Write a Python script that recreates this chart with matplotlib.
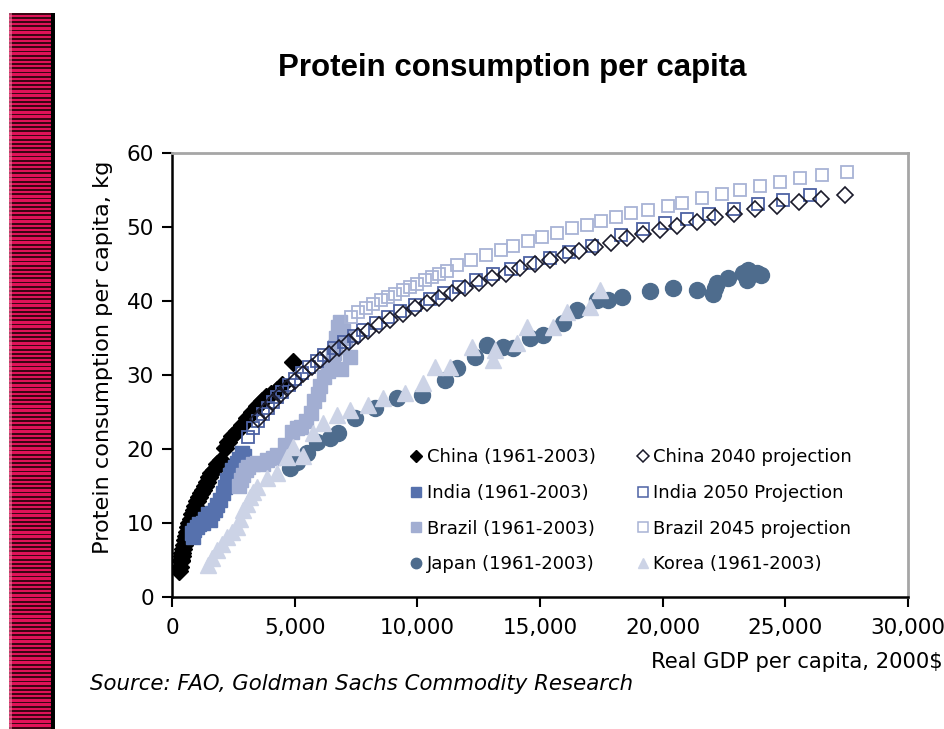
import matplotlib
matplotlib.use('Agg')
import matplotlib.pyplot as plt
import numpy as np
from matplotlib.ticker import FuncFormatter
from matplotlib.lines import Line2D

# historical series (GDP per capita, protein kg)
china_x = [300, 330, 360, 400, 380, 420, 450, 480, 520, 560, 600, 640, 700, 760, 820, 880, 950, 1020,
           1100, 1180, 1250, 1330, 1420, 1500, 1600, 1700, 1820, 2000, 2150, 2300, 2450, 2650, 2850,
           3050, 3250, 3450, 3650, 3850, 4050, 4300, 4500, 4950]
china_y = [3.5, 4.0, 4.8, 5.5, 5.0, 6.0, 6.5, 7.0, 7.7, 8.3, 8.8, 9.4, 10.0, 10.5, 11.2, 11.8, 12.3, 13.0,
           13.5, 14.0, 14.5, 15.0, 15.6, 16.2, 16.8, 17.2, 18.0, 18.5, 20.2, 21.0, 21.8, 22.5, 23.3,
           24.2, 25.0, 25.8, 26.5, 27.0, 27.5, 28.0, 28.6, 31.7]

india_x = [815, 860, 900, 1020, 1100, 1260, 1350, 1450, 1550, 1650, 1750, 1850, 1960, 2060, 2160, 2240,
           2350, 2450, 2550, 2650, 2750, 2850, 2950]
india_y = [8.6, 8.1, 9.0, 9.5, 9.8, 10.0, 10.6, 11.2, 10.4, 11.3, 11.8, 12.5, 13.1, 14.0, 14.9, 15.8,
           16.5, 17.2, 17.6, 18.1, 18.6, 19.4, 19.0]

brazil_x = [2750, 2800, 2900, 3000, 3100, 3300, 3460, 3700, 3870, 4100, 4300, 4600, 4900, 5100, 5250,
            5450, 5650, 5800, 5950, 6050, 6200, 6350, 6450, 6550, 6650, 6700, 6770, 6850, 6950, 7050,
            7260, 6900, 6600]
brazil_y = [15.0, 15.8, 16.5, 17.2, 17.6, 18.0, 18.1, 18.0, 18.5, 18.8, 19.2, 20.5, 22.3, 22.8, 23.0,
            23.8, 24.9, 26.5, 27.5, 28.5, 29.7, 30.5, 31.1, 32.5, 33.8, 35.0, 36.5, 37.2, 36.0, 35.0,
            32.4, 30.8, 33.0]

japan_x = [4800, 5100, 5500, 5900, 6440, 6770, 7460, 8270, 9170, 10190, 11130, 11620, 12350, 12840,
           13490, 13900, 14590, 15120, 15940, 16510, 17320, 17770, 18340, 19480, 20420, 21400, 22050,
           22130, 22210, 22660, 23270, 23430, 23470, 23840, 24000]
japan_y = [17.5, 18.2, 19.4, 21.0, 21.5, 22.2, 24.2, 25.5, 26.9, 27.3, 29.3, 30.9, 32.4, 34.0, 33.8,
           33.6, 35.0, 35.4, 37.0, 38.8, 40.1, 40.1, 40.5, 41.3, 41.8, 41.5, 41.0, 41.8, 42.4, 43.1,
           43.8, 42.8, 44.2, 43.8, 43.5]

korea_x = [1470, 1650, 1830, 2050, 2240, 2450, 2650, 2780, 2900, 3050, 3180, 3320, 3460, 3870, 4280,
           4690, 4930, 5340, 5750, 6150, 6730, 7260, 7990, 8600, 9500, 10230, 10720, 11330, 12230,
           13080, 13170, 14060, 14470, 15530, 16100, 17040, 17440]
korea_y = [4.3, 5.3, 6.3, 7.2, 8.1, 8.8, 9.5, 10.6, 11.8, 12.6, 13.5, 14.2, 14.9, 16.1, 16.8, 18.9,
           20.3, 19.0, 22.2, 23.5, 24.6, 25.3, 25.9, 26.9, 27.6, 28.9, 31.1, 31.1, 33.8, 32.0, 33.4,
           34.3, 36.5, 36.5, 38.5, 39.2, 41.5]

# projections
china_p_x = [3500, 3800, 4100, 4400, 4700, 5000, 5350, 5700, 6050, 6400, 6800, 7200, 7600, 8000, 8450,
             8900, 9400, 9900, 10400, 10900, 11400, 11950, 12500, 13050, 13600, 14200, 14800, 15400,
             16000, 16600, 17250, 17900, 18550, 19200, 19900, 20600, 21400, 22150, 22900, 23750,
             24650, 25550, 26450, 27450]
china_p_y = [24.0, 25.2, 26.3, 27.3, 28.3, 29.2, 30.2, 31.1, 32.0, 32.8, 33.7, 34.5, 35.3, 36.0, 36.8,
             37.5, 38.3, 39.0, 39.7, 40.4, 41.1, 41.8, 42.5, 43.1, 43.7, 44.4, 45.0, 45.6, 46.2, 46.8,
             47.3, 47.9, 48.5, 49.1, 49.6, 50.1, 50.7, 51.3, 51.8, 52.4, 52.9, 53.4, 53.8, 54.3]

india_p_x = [3100, 3300, 3500, 3700, 3900, 4100, 4300, 4500, 4750, 5000, 5300, 5600, 5900, 6200, 6600,
             7000, 7400, 7800, 8300, 8800, 9300, 9900, 10500, 11100, 11700, 12400, 13100, 13800, 14600,
             15400, 16200, 17100, 18300, 19200, 20100, 21000, 21900, 22900, 23900, 24900, 26000]
india_p_y = [21.6, 22.8, 23.8, 24.7, 25.5, 26.3, 27.0, 27.7, 28.6, 29.4, 30.3, 31.1, 31.9, 32.7, 33.6,
             34.5, 35.3, 36.1, 37.0, 37.8, 38.6, 39.5, 40.3, 41.1, 41.9, 42.8, 43.6, 44.3, 45.1, 45.8,
             46.6, 47.5, 48.9, 49.7, 50.5, 51.1, 51.8, 52.5, 53.1, 53.7, 54.3]

brazil_p_x = [7300, 7600, 7900, 8200, 8500, 8800, 9100, 9400, 9700, 10000, 10300, 10600, 10900, 11200,
              11600, 12200, 12800, 13400, 13900, 14500, 15100, 15700, 16300, 16900, 17500, 18100,
              18700, 19400, 20200, 20800, 21600, 22400, 23150, 23950, 24800, 25600, 26500, 27500]
brazil_p_y = [37.8, 38.5, 39.1, 39.6, 40.1, 40.6, 41.0, 41.5, 41.9, 42.3, 42.8, 43.2, 43.6, 44.1, 44.8,
              45.6, 46.2, 46.9, 47.5, 48.1, 48.6, 49.2, 49.8, 50.3, 50.8, 51.3, 51.9, 52.3, 52.8, 53.3,
              53.9, 54.5, 55.0, 55.6, 56.1, 56.6, 57.0, 57.4]

x_ticks = [0, 5000, 10000, 15000, 20000, 25000, 30000]
y_ticks = [0, 10, 20, 30, 40, 50, 60]

c_china = 'black'
c_india = '#5671ad'
c_brazil = '#a2aed2'
c_japan = '#4e6c8d'
c_korea = '#ccd3e6'
c_india_p = '#4d62a4'
c_brazil_p = '#a8b3d5'
c_china_p = '#1a1a2a'

fig = plt.figure(figsize=(9.45, 7.29), dpi=100)

# decorative striped bar on the left (pixel units inside its own axes)
bar = fig.add_axes([9/945, 0, 42/945, 716/729])
bar.set_xlim(0, 1)
bar.set_ylim(0, 716)
bar.set_facecolor('#e01258')
for y0 in np.arange(0.5, 716, 4.2):
    bar.axhspan(y0, y0 + 1.7, color='#3c0614', lw=0)
bar.axvspan(0, 0.06, color='#f07aa0', lw=0, alpha=0.6)
bar.set_xticks([])
bar.set_yticks([])
for s in bar.spines.values():
    s.set_visible(False)
fig.add_artist(plt.Rectangle((51/945, 0), 4/945, 716/729, transform=fig.transFigure,
                             color='black', lw=0))

ax = fig.add_axes([172/945, 132/729, 736/945, 444/729])

ax.plot(china_x, china_y, ls='none', marker='D', ms=9.5, color=c_china)
ax.plot(india_x, india_y, ls='none', marker='s', ms=10, color=c_india, mec=c_india)
ax.plot(brazil_x, brazil_y, ls='none', marker='s', ms=10.5, color=c_brazil, mec=c_brazil)
ax.plot(japan_x, japan_y, ls='none', marker='o', ms=11.5, color=c_japan, mec=c_japan)
ax.plot(korea_x, korea_y, ls='none', marker='^', ms=11, color=c_korea, mec=c_korea)
ax.plot(india_p_x, india_p_y, ls='none', marker='s', ms=8, mfc='none', mec=c_india_p, mew=1.3)
ax.plot(brazil_p_x, brazil_p_y, ls='none', marker='s', ms=8.5, mfc='none', mec=c_brazil_p, mew=1.3)
ax.plot(china_p_x, china_p_y, ls='none', marker='D', ms=8.5, mfc='none', mec=c_china_p, mew=1.2)

ax.set_xlim(0, 30000)
ax.set_ylim(0, 60)
ax.set_xticks(x_ticks)
ax.set_yticks(y_ticks)
ax.xaxis.set_major_formatter(FuncFormatter(lambda v, p: f'{int(v):,}'))
ax.tick_params(axis='both', direction='out', length=7, width=1.5, labelsize=15.5, color='black')
ax.tick_params(axis='x', pad=8)
ax.tick_params(axis='y', pad=6)
for s in ['left', 'bottom']:
    ax.spines[s].set_linewidth(1.8)
    ax.spines[s].set_color('black')
for s in ['top', 'right']:
    ax.spines[s].set_linewidth(2)
    ax.spines[s].set_color('#a6a6a6')

ax.set_ylabel('Protein consumption per capita, kg', fontsize=16.2)
ax.yaxis.set_label_coords(-0.08, 0.54)

# legend with small markers, column order as in the source
def mk(marker, size, fc, ec, mew=1.0):
    return Line2D([], [], ls='none', marker=marker, ms=size, mfc=fc, mec=ec, mew=mew)

handles = [mk('D', 6, c_china, c_china), mk('s', 7, c_india, c_india),
           mk('s', 7, c_brazil, c_brazil), mk('o', 7.5, c_japan, c_japan),
           mk('D', 6, 'none', c_china_p, 1.1), mk('s', 6.5, 'none', c_india_p, 1.1),
           mk('s', 6.5, 'none', c_brazil_p, 1.1), mk('^', 7.5, c_korea, c_korea)]
labels = ['China (1961-2003)', 'India (1961-2003)', 'Brazil (1961-2003)', 'Japan (1961-2003)',
          'China 2040 projection', 'India 2050 Projection', 'Brazil 2045 projection', 'Korea (1961-2003)']
ax.legend(handles, labels, ncol=2, frameon=False, fontsize=13, handlelength=0.6,
          handletextpad=0.3, columnspacing=2.3, labelspacing=0.98,
          loc='lower left', bbox_to_anchor=(0.307, 0.0245), borderaxespad=0.3)

fig.text(0.542, 0.907, 'Protein consumption per capita', ha='center', va='center',
         fontsize=22.5, fontweight='bold', family='Liberation Sans')
fig.text(0.998, 0.092, 'Real GDP per capita, 2000$', ha='right', va='center', fontsize=15.2)
fig.text(0.095, 0.062, 'Source: FAO, Goldman Sachs Commodity Research', ha='left', va='center',
         fontsize=15.3, style='italic')

fig.savefig('out.png', dpi=100)
